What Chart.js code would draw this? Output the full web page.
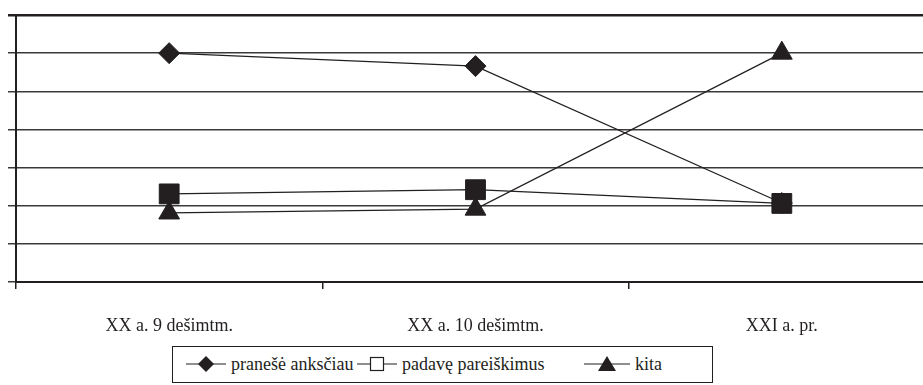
<!DOCTYPE html>
<html>
<head>
<meta charset="utf-8">
<script src="https://cdn.jsdelivr.net/npm/chart.js@4.4.0/dist/chart.umd.min.js"></script>
<style>
    body { margin: 0; width: 923px; height: 385px; overflow: hidden; background: #fff; position: relative; }
    #wrap { position: absolute; left: 0; top: 0; width: 950px; height: 345px; }
    #legend {
        position: absolute; left: 172px; top: 346px; width: 541px; height: 37px;
        border: 1px solid #231f20; box-sizing: border-box;
        font-family: "Liberation Serif", "DejaVu Serif", serif; font-size: 18px; color: #231f20;
    }
    #legend .item { display: flex; align-items: center; position: absolute; top: 6px; }
    #legend svg { margin-right: 5px; }
</style>
</head>
<body>
<div id="wrap"><canvas id="chart" width="950" height="345"></canvas></div>
<div id="legend">
    <div class="item" style="left: 13px;">
        <svg width="40" height="22"><line x1="0" y1="11" x2="40" y2="11" stroke="#231f20" stroke-width="1.2"/><polygon points="20,3 28,11 20,19 12,11" fill="#231f20"/></svg>
        <span>pranešė anksčiau</span>
    </div>
    <div class="item" style="left: 184px;">
        <svg width="40" height="22"><line x1="0" y1="11" x2="40" y2="11" stroke="#231f20" stroke-width="1.2"/><rect x="13.5" y="4.5" width="13" height="13" fill="#fff" stroke="#231f20" stroke-width="1.2"/></svg>
        <span>padavę pareiškimus</span>
    </div>
    <div class="item" style="left: 411px;">
        <svg width="46" height="22"><line x1="0" y1="11" x2="46" y2="11" stroke="#231f20" stroke-width="1.2"/><polygon points="23,3 32,18 14,18" fill="#231f20"/></svg>
        <span>kita</span>
    </div>
</div>
<script>
// Categories and series (y axis has no labels, scale 0-70)
const categories = ['XX a. 9 dešimtm.', 'XX a. 10 dešimtm.', 'XXI a. pr.'];
const praneseAnksciau = [60, 56.6, 20.7];
const padavePareiskimus = [23.1, 24.2, 20.6];
const kita = [18.1, 19.1, 60];
const yTicks = [0, 10, 20, 30, 40, 50, 60, 70];

const ink = '#231f20';

function series(label, data, style, radius) {
    return {
        label: label,
        data: data,
        borderColor: ink,
        borderWidth: 1.2,
        backgroundColor: ink,
        pointStyle: style,
        pointRadius: radius,
        pointHoverRadius: radius,
        pointBackgroundColor: ink,
        pointBorderColor: ink,
        pointBorderWidth: 1,
        tension: 0
    };
}

new Chart(document.getElementById('chart').getContext('2d'), {
    type: 'line',
    data: {
        labels: categories,
        datasets: [
            series('pranešė anksčiau', praneseAnksciau, 'rectRot', 10.5),
            series('padavę pareiškimus', padavePareiskimus, 'rect', 14),
            series('kita', kita, 'triangle', 12)
        ]
    },
    options: {
        responsive: false,
        animation: false,
        devicePixelRatio: 1,
        layout: { padding: { top: 14, left: 0, right: 0, bottom: 0 } },
        plugins: { legend: { display: false }, tooltip: { enabled: false } },
        scales: {
            x: {
                offset: true,
                grid: { offset: true, drawOnChartArea: false, drawTicks: true, tickLength: 7, color: ink, lineWidth: 1.5 },
                border: { color: ink, width: 2 },
                ticks: {
                    color: ink, padding: 26,
                    font: { family: 'Liberation Serif', size: 18 }
                },
                afterFit: function(scale) { scale.height = 63; }
            },
            y: {
                min: yTicks[0],
                max: yTicks[yTicks.length - 1],
                afterBuildTicks: function(scale) { scale.ticks = yTicks.map(v => ({ value: v })); },
                ticks: { display: false },
                grid: {
                    tickLength: 8,
                    color: ctx => ctx.tick && ctx.tick.value === 70 ? ink : '#3a3a3a',
                    lineWidth: ctx => ctx.tick && ctx.tick.value === 70 ? 2.5 : 1.5
                },
                border: { color: ink, width: 2 },
                afterFit: function(scale) { scale.width = 16; }
            }
        }
    }
});
</script>
</body>
</html>
